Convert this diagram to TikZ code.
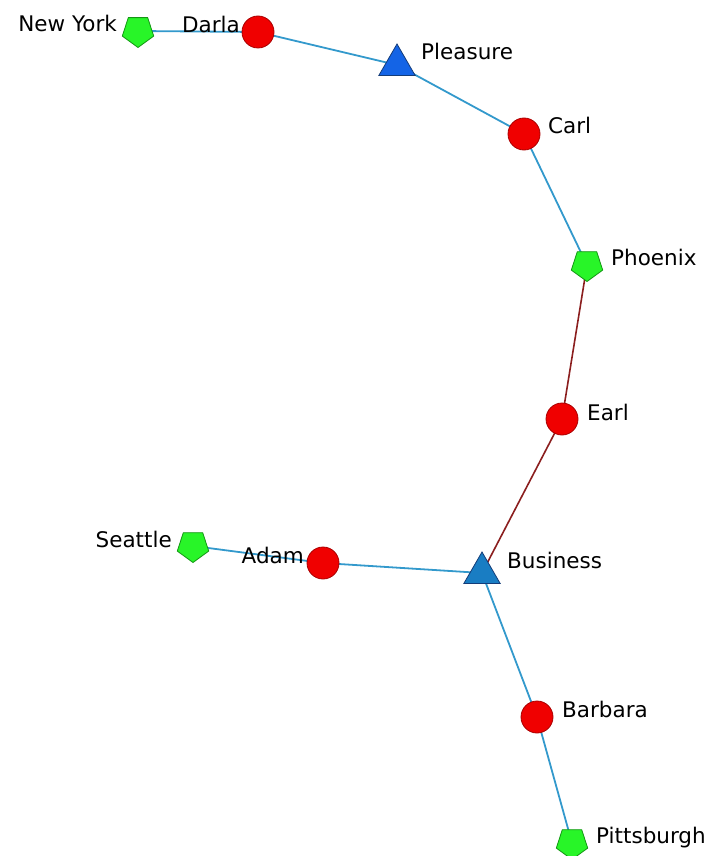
\documentclass[tikz,border=0pt]{standalone}
\usepackage{fontspec}
\setmainfont{DejaVu Sans}
\usetikzlibrary{shapes.geometric,backgrounds}
\definecolor{edgeblue}{RGB}{51,153,204}
\definecolor{edgered}{RGB}{139,30,30}
\definecolor{pfill}{RGB}{40,245,40}
\definecolor{pdraw}{RGB}{20,150,20}
\definecolor{cfill}{RGB}{240,0,0}
\definecolor{cdraw}{RGB}{170,0,0}
\definecolor{tplea}{RGB}{20,100,230}
\definecolor{tbus}{RGB}{25,125,195}
\definecolor{tdraw}{RGB}{20,60,120}
\begin{document}
\begin{tikzpicture}[x=1pt,y=-1pt,
  person/.style={circle,fill=cfill,draw=cdraw,line width=0.8pt,minimum size=32pt,inner sep=0pt},
  city/.style={regular polygon,regular polygon sides=5,shape border rotate=180,fill=pfill,draw=pdraw,line width=0.8pt,minimum size=33pt,inner sep=0pt},
  topic/.style={regular polygon,regular polygon sides=3,draw=tdraw,line width=0.8pt,minimum size=42pt,inner sep=0pt},
  lbl/.style={inner sep=0pt,font=\fontsize{21.5}{25}\selectfont},
  blueedge/.style={draw=edgeblue,line width=1.8pt},
  rededge/.style={draw=edgered,line width=1.6pt}]
\useasboundingbox (0,0) rectangle (706,856);
% nodes
\node[city] (ny) at (138,31) {};
\node[person] (darla) at (258,32) {};
\node[topic,fill=tplea] (pleasure) at (397,65) {};
\node[person] (carl) at (524,134) {};
\node[city] (phoenix) at (587,265) {};
\node[person] (earl) at (562,419) {};
\node[city] (seattle) at (193,546) {};
\node[person] (adam) at (323,563) {};
\node[topic,fill=tbus] (business) at (482,573) {};
\node[person] (barbara) at (537,717) {};
\node[city] (pitt) at (572,843) {};
% edges
\begin{scope}[on background layer]
\draw[blueedge] (ny.center) -- (darla.center);
\draw[blueedge] (darla.center) -- (pleasure.center);
\draw[blueedge] (pleasure.center) -- (carl.center);
\draw[blueedge] (carl.center) -- (phoenix.center);
\draw[rededge] (phoenix.center) -- (earl.center);
\draw[rededge] (earl.center) -- (business.center);
\draw[blueedge] (seattle.center) -- (adam.center);
\draw[blueedge] (adam.center) -- (business.center);
\draw[blueedge] (business.center) -- (barbara.center);
\draw[blueedge] (barbara.center) -- (pitt.center);
\end{scope}
% labels
\node[lbl,anchor=base east] (lny) at (117,32) {New York};
\node[lbl,anchor=base east] (ldarla) at (240,33) {Darla};
\node[lbl,anchor=base west] (lplea) at (421,60) {Pleasure};
\node[lbl,anchor=base west] (lcarl) at (548,133) {Carl};
\node[lbl,anchor=base west] (lphx) at (611,265) {Phoenix};
\node[lbl,anchor=base west] (learl) at (587,420) {Earl};
\node[lbl,anchor=base east] (lsea) at (172,547) {Seattle};
\node[lbl,anchor=base east] (ladam) at (304,563) {Adam};
\node[lbl,anchor=base west] (lbus) at (507,568) {Business};
\node[lbl,anchor=base west] (lbarb) at (562,717) {Barbara};
\node[lbl,anchor=base west] (lpitt) at (596,843) {Pittsburgh};
\end{tikzpicture}
\end{document}
